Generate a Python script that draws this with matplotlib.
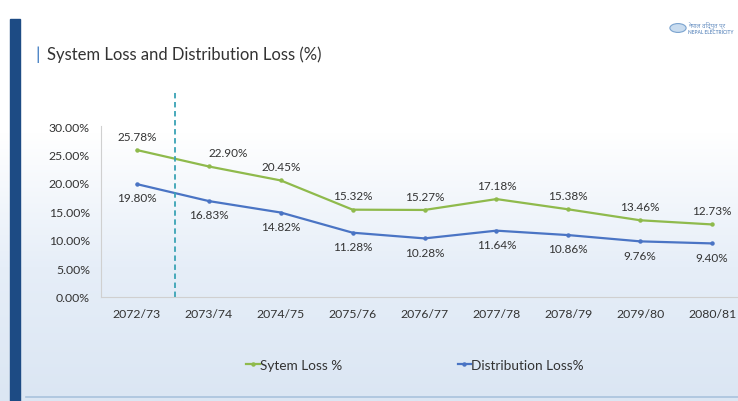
import numpy as np
import matplotlib.pyplot as plt
from matplotlib.patches import Rectangle, Circle

years = ["2072/73", "2073/74", "2074/75", "2075/76", "2076/77",
         "2077/78", "2078/79", "2079/80", "2080/81"]
system_loss = [25.78, 22.90, 20.45, 15.32, 15.27, 17.18, 15.38, 13.46, 12.73]
distribution_loss = [19.80, 16.83, 14.82, 11.28, 10.28, 11.64, 10.86, 9.76, 9.40]
yticks = [0, 5, 10, 15, 20, 25, 30]

GREEN = "#8fba4c"
BLUE = "#4a74c4"
FONT = "Lato"

fig = plt.figure(figsize=(7.38, 4.02), dpi=100)

# slide background: white fading into pale blue
bg = fig.add_axes([0, 0, 1, 1], zorder=-10)
grad = np.linspace(0, 1, 256).reshape(-1, 1)
bg.imshow(grad, aspect="auto", extent=[0, 1, 0, 1], origin="upper",
          cmap=plt.matplotlib.colors.LinearSegmentedColormap.from_list(
              "bgc", ["#ffffff", "#ffffff", "#e6eef8", "#dbe6f3"]))
bg.set_xlim(0, 1)
bg.set_ylim(0, 1)
bg.axis("off")
bg.add_patch(Rectangle((10 / 738, 0), 10 / 738, 1 - 20 / 402, color="#1d4b84"))
bg.plot([0.035, 1], [4 / 402, 4 / 402], color="#a9c3dd", lw=1.2)
bg.add_patch(Circle((678 / 738, 1 - 29 / 402), 0.011, facecolor="#c9dcef",
                    edgecolor="#7aa3cf", lw=0.8))

fig.text(35 / 738, 1 - 55 / 402, "|", color="#3a78c0", fontsize=13,
         va="center", family=FONT)
fig.text(47 / 738, 1 - 55 / 402, "System Loss and Distribution Loss (%)",
         color="#333333", fontsize=12, va="center", family=FONT)
fig.text(688 / 738, 1 - 25 / 402, "नेपाल विद्युत प्र", color="#6f95c4",
         fontsize=4.5, va="center", family=["Noto Sans", "DejaVu Sans"])
fig.text(688 / 738, 1 - 33 / 402, "NEPAL ELECTRICITY", color="#6f95c4",
         fontsize=3.5, va="center", family=FONT, weight="bold")

ax = fig.add_axes([101 / 738, 104 / 402, 637 / 738, 171 / 402])
ax.patch.set_alpha(0)
x = np.arange(len(years))

ax.plot(x, system_loss, color=GREEN, lw=1.6, marker="o", ms=2.2,
        label="Sytem Loss %")
ax.plot(x, distribution_loss, color=BLUE, lw=1.6, marker="o", ms=2.2,
        label="Distribution Loss%")

for i, v in enumerate(system_loss):
    dx = 14 if i == 1 else 0
    ax.annotate(f"{v:.2f}%", (x[i], v), xytext=(dx, 6), textcoords="offset points",
                ha="center", va="bottom", fontsize=8.5, color="#333333", family=FONT)
for i, v in enumerate(distribution_loss):
    ax.annotate(f"{v:.2f}%", (x[i], v), xytext=(0, -6), textcoords="offset points",
                ha="center", va="top", fontsize=8.5, color="#333333", family=FONT)

# dashed marker between first and second year
ax.plot([0.53, 0.53], [0, 36], color="#3aa3b5", lw=1.3, ls=(0, (3, 2)),
        clip_on=False)

ax.set_xlim(-0.5, 8.36)
ax.set_ylim(0, 30)
ax.set_xticks(x)
ax.set_xticklabels(years, family=FONT, fontsize=8.8, color="#333333")
ax.set_yticks(yticks)
ax.set_yticklabels([f"{t:.2f}%" for t in yticks], family=FONT, fontsize=8.8,
                   color="#333333")
ax.tick_params(length=0, pad=8)
for s in ["top", "right"]:
    ax.spines[s].set_visible(False)
for s in ["left", "bottom"]:
    ax.spines[s].set_color("#d0d0d0")

leg = fig.legend(loc="center", bbox_to_anchor=(415 / 738, 1 - 366 / 402), ncol=2,
                 frameon=False, handlelength=1.0, handletextpad=0.0,
                 columnspacing=8.5, prop={"family": FONT, "size": 9.8})
for t in leg.get_texts():
    t.set_color("#333333")

fig.savefig("out.png", dpi=100)
